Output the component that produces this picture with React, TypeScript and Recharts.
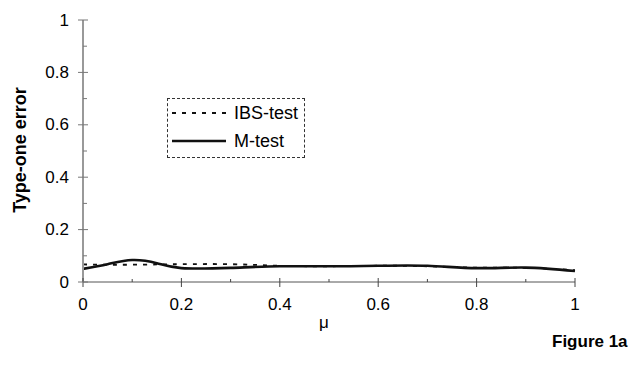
import React from 'react';
import { LineChart, Line, XAxis, YAxis } from 'recharts';

const muValues = [0, 0.05, 0.1, 0.15, 0.2, 0.3, 0.4, 0.5, 0.6, 0.7, 0.8, 0.9, 1];
const ibsTest = [0.067, 0.066, 0.066, 0.067, 0.068, 0.068, 0.062, 0.06, 0.062, 0.06, 0.055, 0.054, 0.045];
const mTest = [0.05, 0.068, 0.084, 0.072, 0.053, 0.054, 0.06, 0.06, 0.062, 0.062, 0.053, 0.055, 0.042];
const xTicks = [0, 0.1, 0.2, 0.3, 0.4, 0.5, 0.6, 0.7, 0.8, 0.9, 1];
const yTicks = [0, 0.1, 0.2, 0.3, 0.4, 0.5, 0.6, 0.7, 0.8, 0.9, 1];

const data = muValues.map((mu, i) => ({ mu, ibs: ibsTest[i], m: mTest[i] }));

const FONT = '"Liberation Sans", Arial, sans-serif';

const isMajor = (v: number) => Math.round(v * 10) % 2 === 0;
const fmt = (v: number) => (v === 0 ? '0' : v === 1 ? '1' : v.toFixed(1));

const XTick = (props: any) => {
  const { x, y, payload } = props;
  const v = payload.value;
  const major = isMajor(v);
  return (
    <g>
      <line x1={x} x2={x} y1={major ? y - 4 : y - 3} y2={major ? y + 5 : y} stroke="#444" strokeWidth={1} />
      {major && (
        <text x={x} y={y + 22} textAnchor="middle" dominantBaseline="central" fontFamily={FONT} fontSize={17} fill="#000">
          {fmt(v)}
        </text>
      )}
    </g>
  );
};

const YTick = (props: any) => {
  const { x, y, payload } = props;
  const v = payload.value;
  const major = isMajor(v);
  return (
    <g>
      <line x1={major ? x - 5 : x} x2={major ? x + 5 : x + 4} y1={y} y2={y} stroke="#777" strokeWidth={1} />
      {major && (
        <text x={x - 14} y={y} textAnchor="end" dominantBaseline="central" fontFamily={FONT} fontSize={17} fill="#000">
          {fmt(v)}
        </text>
      )}
    </g>
  );
};

export default function App() {
  return (
    <div style={{ position: 'absolute', left: 0, top: 0, width: 635, height: 369, background: '#fff', fontFamily: FONT }}>
      <LineChart width={635} height={369} data={data} margin={{ top: 20, right: 60, bottom: 0, left: 0 }}>
        <XAxis
          dataKey="mu"
          type="number"
          domain={[0, 1]}
          ticks={xTicks}
          interval={0}
          height={87}
          tickSize={0}
          tickMargin={0}
          tickLine={false}
          tick={<XTick />}
          axisLine={{ stroke: '#555', strokeWidth: 1 }}
        />
        <YAxis
          type="number"
          domain={[0, 1]}
          ticks={yTicks}
          interval={0}
          width={83}
          tickSize={0}
          tickMargin={0}
          tickLine={false}
          tick={<YTick />}
          axisLine={{ stroke: '#999', strokeWidth: 2 }}
        />
        <Line dataKey="ibs" type="natural" stroke="#111" strokeWidth={1.8} strokeDasharray="4 6" dot={false} isAnimationActive={false} />
        <Line dataKey="m" type="natural" stroke="#111" strokeWidth={2.6} dot={false} isAnimationActive={false} />
      </LineChart>

      <div
        style={{
          position: 'absolute', left: 8, top: 150, transform: 'translate(-50%, -50%) rotate(-90deg)', transformOrigin: 'center',
          marginLeft: 12, fontWeight: 'bold', fontSize: 18, whiteSpace: 'nowrap', color: '#000',
        }}
      >
        Type-one error
      </div>
      <div style={{ position: 'absolute', left: 324, top: 323, transform: 'translate(-50%, -50%)', fontSize: 17, color: '#000' }}>μ</div>
      <div style={{ position: 'absolute', left: 552, top: 342, transform: 'translateY(-50%)', fontSize: 17, fontWeight: 'bold', color: '#000', whiteSpace: 'nowrap' }}>
        Figure 1a
      </div>

      <div
        style={{
          position: 'absolute', left: 167, top: 98, width: 136, height: 58, border: '1px dashed #333',
          fontSize: 18, color: '#000',
        }}
      >
        <div style={{ position: 'absolute', left: 4, top: 4, height: 20, display: 'flex', alignItems: 'center' }}>
          <svg width={54} height={4}><line x1={0} x2={54} y1={2} y2={2} stroke="#111" strokeWidth={1.8} strokeDasharray="4 6" /></svg>
          <span style={{ marginLeft: 8, lineHeight: '1' }}>IBS-test</span>
        </div>
        <div style={{ position: 'absolute', left: 4, top: 32, height: 20, display: 'flex', alignItems: 'center' }}>
          <svg width={54} height={4}><line x1={0} x2={54} y1={2} y2={2} stroke="#111" strokeWidth={2.6} /></svg>
          <span style={{ marginLeft: 8, lineHeight: '1' }}>M-test</span>
        </div>
      </div>
    </div>
  );
}
